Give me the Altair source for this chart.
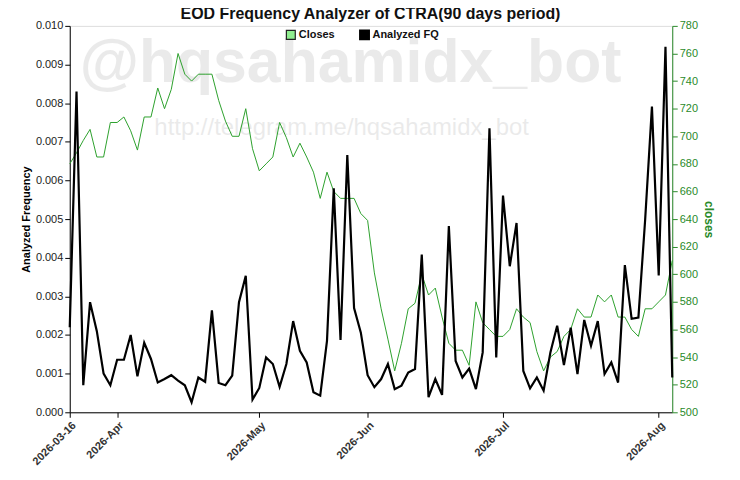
import altair as alt
import pandas as pd

fq = [0.0022,0.0083,0.0007,0.00285,0.0021,0.0010,0.0007,0.00136,0.00136,0.0020,
      0.00093,0.0018,0.00138,0.00077,0.00086,0.00096,0.00082,0.0007,0.00026,0.0009,
      0.00079,0.00264,0.00076,0.0007,0.00095,0.00285,0.00353,0.00033,0.00063,0.00142,
      0.00125,0.00066,0.00125,0.00236,0.00159,0.00129,0.00052,0.00043,0.00185,0.0058,
      0.00187,0.00666,0.0027,0.00206,0.00096,0.00065,0.00086,0.00125,0.0006,0.00069,
      0.00103,0.00112,0.00408,0.00039,0.00086,0.00045,0.00482,0.00133,0.0009,0.00113,
      0.0006,0.00155,0.00735,0.00142,0.00561,0.00378,0.0049,0.00107,0.00062,0.0009,
      0.00056,0.00155,0.00224,0.00122,0.00219,0.00099,0.00239,0.00172,0.00236,0.00099,
      0.00129,0.00077,0.00381,0.00242,0.00245,0.00499,0.00791,0.00354,0.00946,0.0009]
closes = [680,688,697,705,685,685,710,710,714,704,
          690,714,714,735,720,734,760,745,740,745,
          745,745,726,711,700,700,720,691,675,680,
          685,710,699,685,695,685,674,655,674,660,
          655,655,655,644,639,601,575,553,530,550,
          575,579,600,585,590,569,550,545,545,534,
          580,565,560,555,555,560,575,569,565,544,
          530,540,544,555,560,575,569,569,585,580,
          585,569,569,560,555,575,575,580,585,610]
tick_idx = [0, 7, 28, 44, 64, 87]
tick_lbl = ["2026-03-16", "2026-Apr", "2026-May", "2026-Jun", "2026-Jul", "2026-Aug"]
title_text = "EOD Frequency Analyzer of CTRA(90 days period)"

n = len(fq)
df = pd.DataFrame({"i": list(range(n)), "fq": fq, "close": closes})
one = df.head(1)

lbl_expr = "{" + ",".join(f"'{i}':'{l}'" for i, l in zip(tick_idx, tick_lbl)) + "}[datum.value]"
xenc = alt.X("i:Q", scale=alt.Scale(domain=[0, n - 1], nice=False, zero=False),
             axis=alt.Axis(values=tick_idx, labelExpr=lbl_expr, title=None, grid=False,
                           labelAngle=-45, labelFontWeight="bold", labelColor="#333",
                           labelFontSize=11, domainColor="black", tickColor="black"))

green = alt.Chart(df).mark_line(strokeWidth=1, color="#2ca02c").encode(
    x=xenc,
    y=alt.Y("close:Q", scale=alt.Scale(domain=[500, 780], nice=False, zero=False),
            axis=alt.Axis(orient="right", values=list(range(500, 781, 20)), grid=False,
                          title="closes", titleColor="#2a8a2a", titleFontWeight="bold", titleFontSize=12,
                          labelColor="#2a8a2a", domainColor="#2a8a2a", tickColor="#2a8a2a", labelFontSize=11)))

black = alt.Chart(df).mark_line(strokeWidth=2.2, color="black").encode(
    x=xenc,
    y=alt.Y("fq:Q", scale=alt.Scale(domain=[0, 0.010], nice=False),
            axis=alt.Axis(values=[i / 1000 for i in range(11)], format=".3f", gridColor="#bbb",
                          title="Analyzed Frequency", titleFontWeight="bold", titleFontSize=11,
                          labelFontSize=11, labelColor="#222", domainColor="black", tickColor="black")))

wm1 = alt.Chart(one).mark_text(text="@hqsahamidx_bot", fontSize=61, fontWeight="bold",
                                color="#000", opacity=0.08).encode(x=alt.value(282), y=alt.value(38))
wm2 = alt.Chart(one).mark_text(text="http://telegram.me/hqsahamidx_bot", fontSize=24,
                                color="#000", opacity=0.08).encode(x=alt.value(273), y=alt.value(103))
ttl = alt.Chart(one).mark_text(text=title_text, fontSize=16, fontWeight="bold", color="#111").encode(
    x=alt.value(302), y=alt.value(-12))
sq1 = alt.Chart(one).mark_square(size=80, fill="#90ee90", stroke="#222", strokeWidth=1.2, opacity=1).encode(
    x=alt.value(222), y=alt.value(9))
sq2 = alt.Chart(one).mark_square(size=80, fill="black", stroke="black", opacity=1).encode(
    x=alt.value(296), y=alt.value(9))
tx1 = alt.Chart(one).mark_text(text="Closes", align="left", fontSize=11, fontWeight="bold", color="#111").encode(
    x=alt.value(230), y=alt.value(9))
tx2 = alt.Chart(one).mark_text(text="Analyzed FQ", align="left", fontSize=11, fontWeight="bold", color="#111").encode(
    x=alt.value(304), y=alt.value(9))

chart = alt.layer(wm1, wm2, green, black, ttl, sq1, sq2, tx1, tx2).resolve_scale(y="independent").properties(
    width=605, height=388,
    autosize=alt.AutoSizeParams(type="none"),
    padding={"left": 62, "top": 17, "right": 60, "bottom": 60},
).configure_view(stroke="black", strokeWidth=1).configure(font="Liberation Sans")

chart.save("out.html", embed_options={"renderer": "svg", "actions": False})
